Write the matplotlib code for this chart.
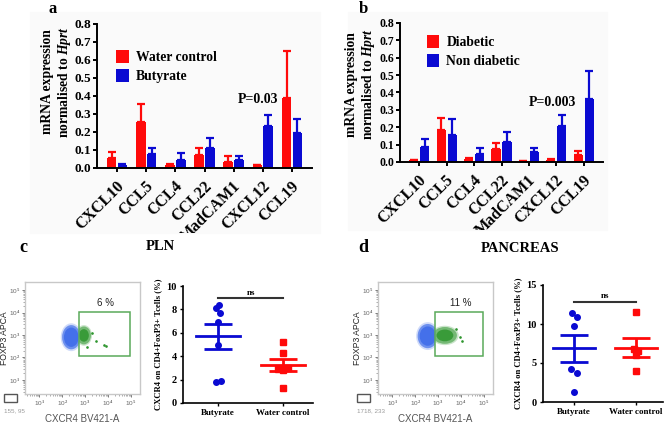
import matplotlib
matplotlib.use("Agg")
import matplotlib.pyplot as plt
import numpy as np
from matplotlib.patches import Rectangle, Ellipse
from matplotlib.transforms import Bbox, TransformedBbox, ScaledTranslation

plt.rcParams['font.family'] = ['Liberation Serif', 'DejaVu Serif']
plt.rcParams['mathtext.fontset'] = 'custom'
plt.rcParams['mathtext.it'] = 'Liberation Serif:bold:italic'
plt.rcParams['mathtext.rm'] = 'Liberation Serif:bold'

RED = '#ff0a0a'
BLUE = '#0a0ad2'

# ---- panel a / b data (mean, upper error end) ----
genes = ['CXCL10', 'CCL5', 'CCL4', 'CCL22', 'MadCAM1', 'CXCL12', 'CCL19']

water_mean = [0.057, 0.255, 0.015, 0.075, 0.035, 0.015, 0.390]
water_top = [0.090, 0.355, 0.020, 0.110, 0.065, 0.017, 0.648]
butyrate_mean = [0.017, 0.078, 0.045, 0.113, 0.045, 0.232, 0.192]
butyrate_top = [0.020, 0.110, 0.082, 0.168, 0.065, 0.295, 0.270]

diabetic_mean = [0.012, 0.183, 0.018, 0.075, 0.005, 0.013, 0.038]
diabetic_top = [0.014, 0.252, 0.022, 0.107, 0.006, 0.016, 0.063]
nondiab_mean = [0.085, 0.155, 0.047, 0.115, 0.056, 0.210, 0.362]
nondiab_top = [0.130, 0.248, 0.082, 0.172, 0.080, 0.268, 0.522]

# ---- panel c / d dot plots ----
groups = ['Butyrate', 'Water control']
pln_butyrate = [8.4, 8.1, 7.7, 6.9, 5.0, 1.9, 1.8]
pln_butyrate_jit = [0.01, -0.04, 0.036, 0.0, 0.0, 0.04, -0.036]
pln_water = [5.2, 4.25, 3.0, 2.9, 2.8, 1.3]
pln_water_jit = [0.0, 0.0, 0.07, -0.08, 0.0, 0.0]
pan_butyrate = [11.4, 10.9, 9.7, 4.2, 3.7, 1.3]
pan_butyrate_jit = [-0.04, 0.05, 0.0, -0.05, 0.05, 0.0]
pan_water = [11.5, 6.8, 6.6, 6.0, 4.0]
pan_water_jit = [0.0, -0.04, 0.03, 0.0, 0.0]

# ---- flow plots (log10 decades) ----
flow_pct = ['6 %', '11 %']
flow_events = ['155, 95', '1718, 233']


fig = plt.figure(figsize=(6.69, 4.25), dpi=100)
W, H = 669.0, 425.0


def fx(px):
    return px / W


def fy(py):
    return 1 - py / H


# faint grey image backgrounds of panels a and b
for x0, x1, y1 in [(30, 320, 233), (348, 607, 230)]:
    fig.patches.append(Rectangle((fx(x0), fy(y1)), fx(x1 - x0), (y1 - 12) / H,
                                 transform=fig.transFigure, color='#fafafa',
                                 zorder=-5))


def bar_panel(rect, s1, t1, s2, t2, names, ptext, pxy, lab_xy, leg_xy,
              width, off, clip_y, tick_fs):
    ax = fig.add_axes(rect)
    ax.set_facecolor('none')
    x = np.arange(len(genes))
    for m, t, c, o, n in [(s1, t1, RED, -off, names[0]),
                          (s2, t2, BLUE, off, names[1])]:
        m = np.array(m)
        err = np.array(t) - m
        ax.bar(x + o, m, width, color=c, label=n, zorder=2)
        ax.errorbar(x + o, m, yerr=[np.zeros_like(m), err], fmt='none',
                    ecolor=c, elinewidth=1.6, capsize=3, capthick=1.6,
                    zorder=2)
    ax.set_ylim(0, 0.8)
    ax.set_yticks(np.arange(0, 0.81, 0.1))
    ax.set_yticklabels(['%.1f' % v for v in np.arange(0, 0.81, 0.1)],
                       fontsize=tick_fs, fontweight='bold')
    ax.set_xticks(x)
    ax.set_xticklabels([])
    # rotated gene names, cut off by the lower edge of the image
    clip = TransformedBbox(Bbox.from_extents(0, fy(clip_y), 1, 1),
                           fig.transFigure)
    shift = ScaledTranslation(-1 / 100, -10 / 100, fig.dpi_scale_trans)
    for i, g in enumerate(genes):
        t = ax.text(i, 0, g, transform=ax.get_xaxis_transform() + shift,
                    rotation=45, ha='right', va='top',
                    rotation_mode='anchor', fontsize=11.5, fontweight='bold')
        t.set_clip_box(clip)
        t.set_clip_on(True)
    for s in ['top', 'right']:
        ax.spines[s].set_visible(False)
    for s in ['left', 'bottom']:
        ax.spines[s].set_linewidth(1.4)
    ax.tick_params(width=1.4, length=3, pad=1)
    ax.set_ylabel('mRNA expression\nnormalised to $Hprt$', fontsize=9.8,
                  fontweight='bold', linespacing=1.15)
    ax.yaxis.set_label_coords(*lab_xy)
    ax.text(pxy[0], pxy[1], ptext, fontsize=10, fontweight='bold',
            ha='center', va='center')
    ax.legend(loc='upper left', bbox_to_anchor=leg_xy, frameon=False,
              handlelength=0.9, handleheight=1.1, handletextpad=0.55,
              labelspacing=0.35, borderaxespad=0,
              prop={'weight': 'bold', 'size': 9.8})
    return ax


bar_panel([fx(97), fy(168), fx(215), 144 / H], water_mean, water_top,
          butyrate_mean, butyrate_top, ['Water control', 'Butyrate'],
          'P=0.03', (4.82, 0.378), (-0.112, 0.6), (0.065, 0.86),
          0.33, 0.185, 233, 9.5)
bar_panel([fx(400), fy(162), fx(203), 139 / H], diabetic_mean, diabetic_top,
          nondiab_mean, nondiab_top, ['Diabetic', 'Non diabetic'],
          'P=0.003', (4.86, 0.34), (-0.115, 0.56), (0.105, 0.955),
          0.33, 0.2, 230, 8.5)

fig.text(fx(53), fy(9), 'a', fontsize=12, fontweight='bold',
         ha='center', va='center')
fig.text(fx(363), fy(9), 'b', fontsize=12, fontweight='bold',
         ha='center', va='center')
fig.text(fx(23), fy(248), 'c', fontsize=13, fontweight='bold',
         ha='center', va='center')
fig.text(fx(160), fy(247), 'PLN', fontsize=10.5, fontweight='bold',
         ha='center', va='center')
fig.text(fx(363), fy(248), 'd', fontsize=13, fontweight='bold',
         ha='center', va='center')
fig.text(fx(520), fy(248), 'PANCREAS', fontsize=10.5, fontweight='bold',
         ha='center', va='center')


def flow_panel(x0, pct, events, blue_ell, green_ell, gate_x0, extra):
    ax = fig.add_axes([fx(x0), fy(394), fx(115), 112 / H])
    ax.set_xlim(0.38, 5.4)
    ax.set_ylim(0.37, 5.36)
    gate = Rectangle((gate_x0, 2.08), 4.97 - gate_x0, 1.93, fill=False,
                     ec='#5aaa5a', lw=1.1, zorder=4)
    left = Rectangle((0, 0), gate_x0, 6, transform=ax.transData)
    right = Rectangle((gate_x0, 0), 6, 6, transform=ax.transData)
    cx, cy, w, h = blue_ell
    for k, a in [(1.15, 0.25), (1.0, 0.7), (0.8, 1.0)]:
        e = Ellipse((cx, cy), w * k, h * k, color='#4470ea', alpha=a,
                    lw=0, zorder=2)
        ax.add_patch(e)
        e.set_clip_path(left)
    cx, cy, w, h = green_ell
    for k, a in [(1.15, 0.25), (1.0, 0.55), (0.7, 0.85)]:
        e = Ellipse((cx, cy), w * k, h * k, color='#2f962f', alpha=a,
                    lw=0, zorder=3)
        ax.add_patch(e)
        e.set_clip_path(right)
    ax.plot(extra[0], extra[1], 'o', ms=0.9, color='#2f962f', lw=0)
    ax.add_patch(gate)
    ax.text((gate_x0 + 4.97) / 2 + 0.05, 4.42, pct, fontsize=7,
            family='Liberation Sans', ha='center', va='center', color='#222')
    ticks = [1, 2, 3, 4, 5]
    ax.set_xticks(ticks)
    ax.set_yticks(ticks)
    lab = ['10$^{%d}$' % t for t in ticks]
    ax.set_xticklabels(lab)
    ax.set_yticklabels(lab)
    minor = np.log10(np.concatenate([np.arange(2, 10) * 10.0 ** k
                                     for k in range(0, 5)]))
    ax.set_xticks(minor[minor > 0.4], minor=True)
    ax.set_yticks(minor[minor > 0.4], minor=True)
    ax.tick_params(labelsize=4.6, colors='#666', length=2.5, width=0.6,
                   pad=1)
    ax.tick_params(which='minor', length=1.2, width=0.5, colors='#888')
    for s in ax.spines.values():
        s.set_color('#c8c8c8')
        s.set_linewidth(1.0)
    for l in ax.get_xticklabels() + ax.get_yticklabels():
        l.set_family('Liberation Sans')
    ax.set_xlabel('CXCR4 BV421-A', fontsize=7, family='Liberation Sans',
                  color='#555', labelpad=4)
    ax.set_ylabel('FOXP3 APCA', fontsize=6.2, family='Liberation Sans',
                  color='#222')
    ax.yaxis.set_label_coords(-0.14, 0.5)
    # small zoom icon and event count
    fig.patches.append(Rectangle((fx(x0 - 21), fy(402)), fx(13), 8 / H,
                                 fill=False, ec='#555', lw=1.0,
                                 transform=fig.transFigure))
    fig.text(fx(x0 - 21), fy(411), events, fontsize=4.5, color='#999',
             family='Liberation Sans', ha='left', va='center')
    return ax


flow_panel(25, flow_pct[0], flow_events[0], (2.4, 2.9, 0.8, 1.08),
           (2.95, 2.98, 0.62, 0.8), 2.75,
           ([3.5, 3.85, 3.3, 3.1, 3.9], [2.75, 2.55, 3.1, 2.45, 2.5]))
flow_panel(378, flow_pct[1], flow_events[1], (2.55, 2.95, 0.88, 1.08),
           (3.3, 2.98, 1.05, 0.75), 2.885,
           ([3.95, 4.05, 3.8], [2.9, 2.75, 3.25]))


def dot_panel(rect, ymax, ystep, b, bj, w, wj, bsem, wsem, xlim, ns_y):
    ax = fig.add_axes(rect)
    ax.set_facecolor('none')
    for i, (vals, jit, c, mk) in enumerate([(b, bj, BLUE, 'o'),
                                            (w, wj, RED, 's')]):
        vals = np.array(vals)
        ax.plot(i + np.array(jit), vals, mk, color=c, ms=4, lw=0, zorder=3)
        m = vals.mean()
        sem = [bsem, wsem][i]
        ax.plot([i - 0.34, i + 0.34], [m, m], color=c, lw=2, zorder=2)
        ax.errorbar([i], [m], yerr=[[m - sem[0]], [sem[1] - m]], fmt='none',
                    ecolor=c, elinewidth=2, capsize=10, capthick=2, zorder=2)
    ax.plot([0, 1], [ns_y, ns_y], color='#333', lw=1.5)
    ax.text(0.5, ns_y + ymax * 0.015, 'ns', fontsize=6.5, fontweight='bold',
            ha='center', va='bottom')
    ax.set_xlim(*xlim)
    ax.set_ylim(0, ymax)
    ax.set_yticks(np.arange(0, ymax + 0.1, ystep))
    ax.set_yticklabels(['%d' % v for v in np.arange(0, ymax + 0.1, ystep)])
    ax.set_xticks([0, 1])
    ax.set_xticklabels(groups, fontweight='bold', fontsize=6.5)
    for s in ['top', 'right']:
        ax.spines[s].set_visible(False)
    for s in ['left', 'bottom']:
        ax.spines[s].set_linewidth(1.2)
    ax.tick_params(labelsize=7.5, width=1.0, length=2.5, pad=2)
    ax.tick_params(axis='x', labelsize=6.5)
    for l in ax.get_yticklabels():
        l.set_fontweight('bold')
    ax.set_ylabel('CXCR4 on CD4+FoxP3+ Tcells (%)', fontsize=6.2,
                  fontweight='bold', labelpad=3)
    return ax


dot_panel([fx(183), fy(403), fx(130), 117 / H], 10, 2,
          pln_butyrate, pln_butyrate_jit, pln_water, pln_water_jit,
          (4.65, 6.75), (2.7, 3.8), (-0.54, 1.46), 8.95)
dot_panel([fx(543), fy(402), fx(120), 117 / H], 15, 5,
          pan_butyrate, pan_butyrate_jit, pan_water, pan_water_jit,
          (5.1, 8.65), (5.75, 8.2), (-0.5, 1.435), 12.8)

fig.savefig('out.png', dpi=100)
